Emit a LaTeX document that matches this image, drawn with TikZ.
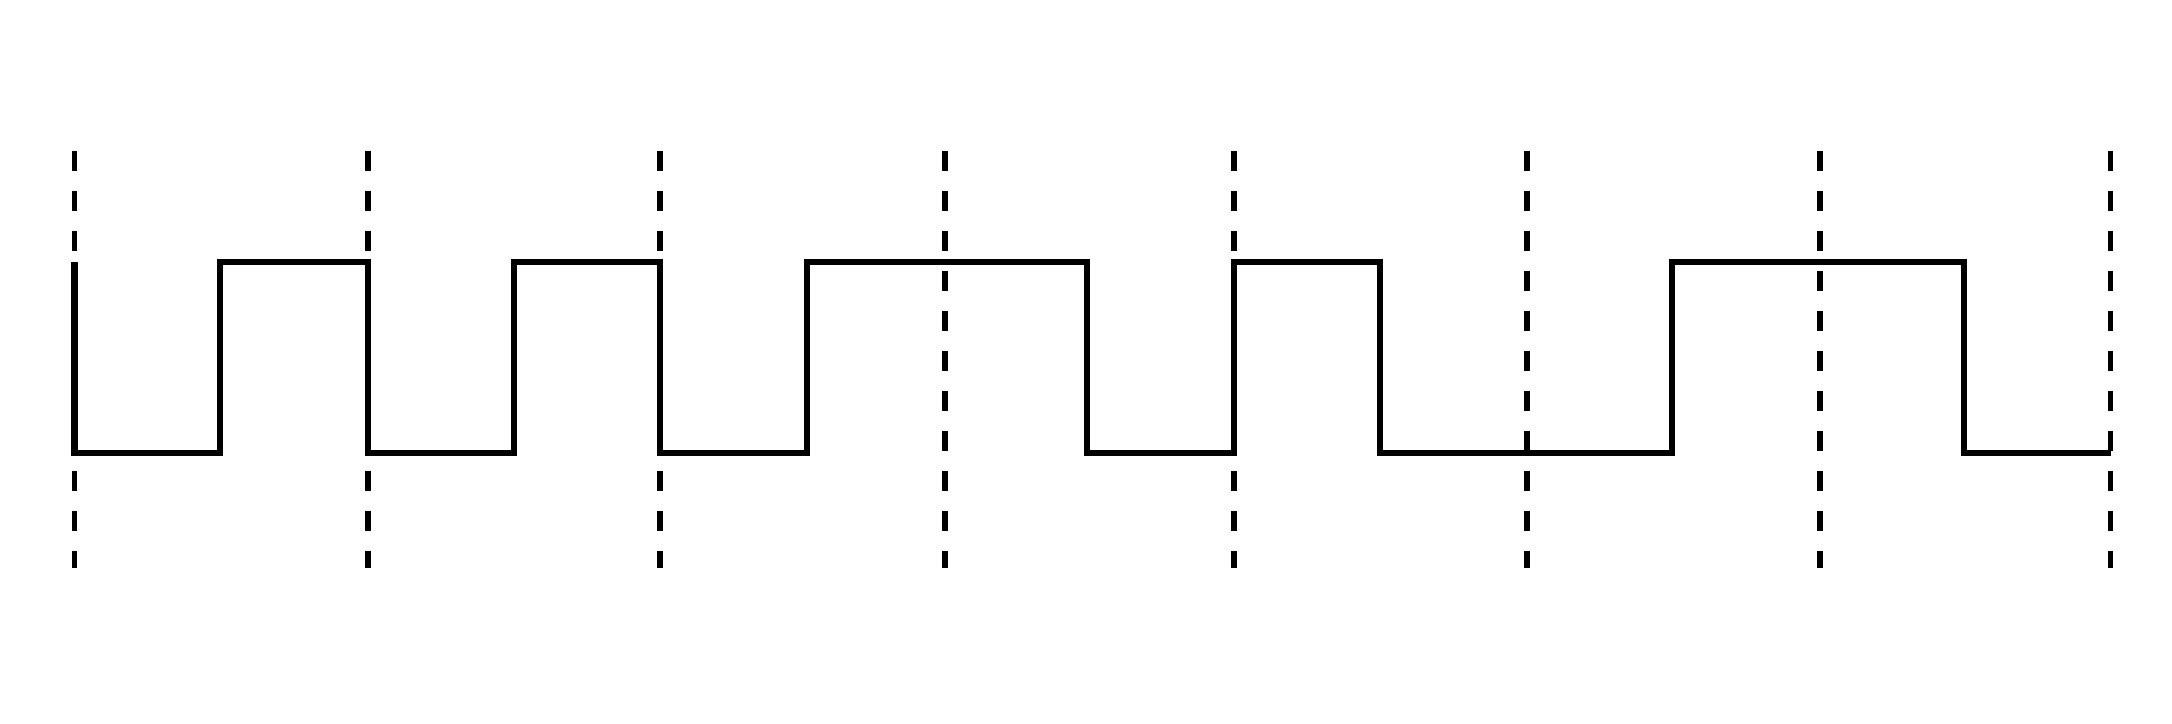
\documentclass[tikz,border=0pt]{standalone}
\begin{document}
\begin{tikzpicture}[x=0.01cm,y=-0.01cm,
  guide/.style={line width=1.45pt, dash pattern=on 0.2cm off 0.2cm, black},
  signal/.style={line width=1.95pt, black, line join=miter}]
\useasboundingbox (0,0) rectangle (2172,724);
\fill[white] (0,0) rectangle (2172,724);
\def\hi{262}\def\lo{453}
% bit boundaries and mid-bit transitions
\foreach \x [count=\i from 0] in {74.5,368,660,945,1234,1527,1820,2110.5}
  \coordinate (b\i) at (\x,0);
\foreach \x [count=\i from 0] in {220,514,807,1087,1380,1672,1964}
  \coordinate (m\i) at (\x,0);
\foreach \i in {0,...,7}{
  \draw[guide] (b\i |- 0,151) -- (b\i |- 0,568);
}
\draw[signal] (b0|-0,\hi) -- (b0|-0,\lo) -- (m0|-0,\lo) -- (m0|-0,\hi)
  -- (b1|-0,\hi) -- (b1|-0,\lo) -- (m1|-0,\lo) -- (m1|-0,\hi)
  -- (b2|-0,\hi) -- (b2|-0,\lo) -- (m2|-0,\lo) -- (m2|-0,\hi)
  -- (m3|-0,\hi) -- (m3|-0,\lo) -- (b4|-0,\lo) -- (b4|-0,\hi)
  -- (m4|-0,\hi) -- (m4|-0,\lo) -- (m5|-0,\lo) -- (m5|-0,\hi)
  -- (m6|-0,\hi) -- (m6|-0,\lo) -- (b7|-0,\lo);
\end{tikzpicture}
\end{document}
